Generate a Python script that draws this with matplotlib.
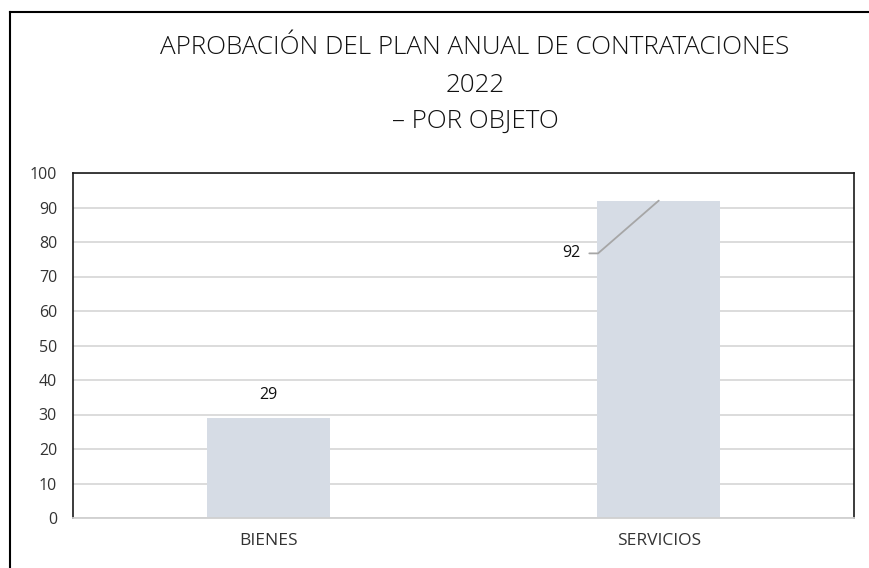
import matplotlib
matplotlib.use("Agg")
import matplotlib.pyplot as plt
from matplotlib.lines import Line2D

categories = ["BIENES", "SERVICIOS"]
values = [29, 92]
yticks = [0, 10, 20, 30, 40, 50, 60, 70, 80, 90, 100]
title_lines = ["APROBACIÓN DEL PLAN ANUAL DE CONTRATACIONES", "2022", "– POR OBJETO"]

W, H = 870, 568
fig = plt.figure(figsize=(W / 100, H / 100), dpi=100)
ax = fig.add_axes([73 / W, 1 - 518 / H, (854 - 73) / W, (518 - 173) / H])

x = list(range(len(categories)))
ax.bar(x, values, width=0.315, color="#d6dce5", zorder=2)
ax.set_xlim(-0.5, 1.5)
ax.set_ylim(0, 100)
ax.set_yticks(yticks)
ax.set_yticklabels([str(t) for t in yticks])
ax.set_xticks(x)
ax.set_xticklabels(categories)
ax.yaxis.grid(True, color="#d9d9d9", linewidth=1.3, zorder=0)
ax.set_axisbelow(True)
ax.tick_params(axis="both", length=0, labelcolor="#333333")
ax.tick_params(axis="y", pad=11.5, labelsize=11.5)
ax.tick_params(axis="x", pad=11, labelsize=12.5)
for lbl in ax.get_xticklabels() + ax.get_yticklabels():
    lbl.set_family("Open Sans")
for s in ["left", "top", "right"]:
    ax.spines[s].set_color("#1a1a1a")
    ax.spines[s].set_linewidth(1.2)
ax.spines["bottom"].set_color("#d0d0d0")
ax.spines["bottom"].set_linewidth(1.3)

# data label for first bar
ax.annotate(str(values[0]), xy=(x[0], values[0]), xytext=(0, 16.5), textcoords="offset points",
            ha="center", va="center", fontsize=11.5, family="Open Sans", color="#111111")
# data label with leader line for second bar
ax.annotate(str(values[1]), xy=(x[1], values[1]), xytext=(-56, -38), textcoords="offset points",
            ha="right", va="center", fontsize=11.5, family="Open Sans", color="#111111",
            arrowprops=dict(arrowstyle="-", color="#a6a6a6", lw=1.3,
                            connectionstyle="angle,angleA=0,angleB=41,rad=0",
                            shrinkA=4, shrinkB=0))

# title
cx = 475 / W
ys = [48, 85, 121]
for t, yy in zip(title_lines, ys):
    fig.text(cx, 1 - yy / H, t, ha="center", va="center", fontsize=18.7,
             family="Open Sans", fontweight="light", color="#111111")

# outer chart border (left and top visible)
fig.add_artist(Line2D([10 / W, 10 / W], [0, 1 - 12 / H], transform=fig.transFigure, color="black", lw=1.5))
fig.add_artist(Line2D([10 / W, 1], [1 - 12 / H, 1 - 12 / H], transform=fig.transFigure, color="black", lw=1.5))

fig.savefig("out.png", dpi=100)
